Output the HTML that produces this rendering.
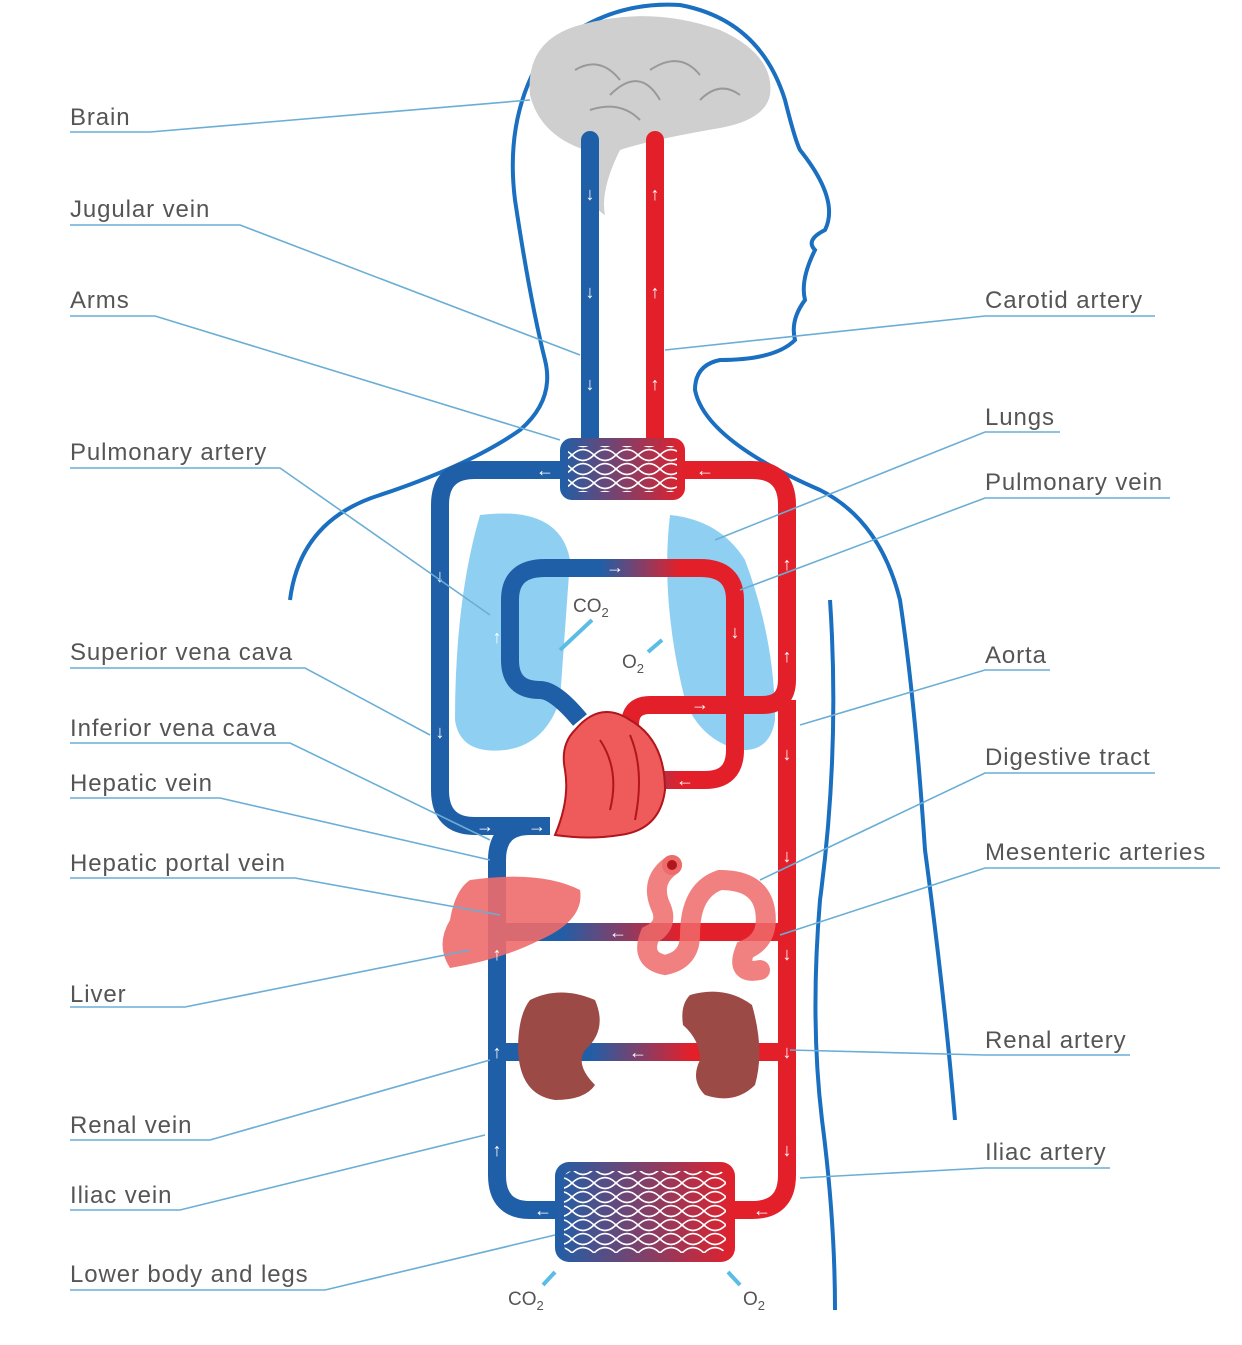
<!DOCTYPE html>
<html><head><meta charset="utf-8"><style>
html,body{margin:0;padding:0;background:#fff;}
svg{display:block;}
text{font-family:"Liberation Sans",sans-serif;}
.lb{font-size:24px;fill:#555;letter-spacing:0.9px;}
.ld{stroke:#6aaed6;stroke-width:1.6;fill:none;}
.ar{font-size:18px;fill:#fff;font-weight:bold;text-anchor:middle;}
</style></head><body>
<svg width="1242" height="1345" viewBox="0 0 1242 1345" xmlns="http://www.w3.org/2000/svg">
<defs>
<linearGradient id="br" x1="0" x2="1"><stop offset="0" stop-color="#1f5fa8"/><stop offset="1" stop-color="#e3202a"/></linearGradient>
<linearGradient id="lg" gradientUnits="userSpaceOnUse" x1="600" y1="0" x2="680" y2="0"><stop offset="0" stop-color="#1f5fa8"/><stop offset="1" stop-color="#e3202a"/></linearGradient>
<linearGradient id="pg" gradientUnits="userSpaceOnUse" x1="560" y1="0" x2="680" y2="0"><stop offset="0" stop-color="#1f5fa8"/><stop offset="1" stop-color="#e3202a"/></linearGradient>
<linearGradient id="rg" gradientUnits="userSpaceOnUse" x1="590" y1="0" x2="690" y2="0"><stop offset="0" stop-color="#1f5fa8"/><stop offset="1" stop-color="#e3202a"/></linearGradient>
<pattern id="mesh" width="22" height="14" patternUnits="userSpaceOnUse"><path d="M0 7 Q11 -4 22 7 M0 7 Q11 18 22 7" stroke="#fff" stroke-width="1.6" fill="none"/></pattern>
</defs>
<rect width="1242" height="1345" fill="#fff"/>
<path d="M290 600 Q300 520 380 495 Q470 465 520 430 Q555 400 545 360 Q530 300 515 200 Q505 120 540 60 Q600 0 680 5 Q760 20 785 100 Q795 140 800 150 Q840 200 825 230 Q805 240 815 250 Q800 280 805 300 Q790 320 795 340 Q775 360 720 360 Q695 365 695 390 Q705 440 820 490 Q880 520 900 600 Q915 700 925 850 Q945 1000 955 1120" fill="none" stroke="#1a6fc0" stroke-width="4"/>
<path d="M830 600 Q840 750 820 900 Q810 1020 822 1120 Q835 1220 835 1310" fill="none" stroke="#1a6fc0" stroke-width="4"/>
<path d="M530 95 Q525 40 580 25 Q650 5 720 30 Q775 55 770 95 Q765 120 720 128 Q650 140 620 150 Q600 190 605 215 Q580 200 585 150 Q540 135 530 95Z" fill="#cfcfcf"/>
<path d="M575 70 Q600 55 620 80 M610 95 Q640 65 660 100 M650 70 Q680 50 700 75 M700 100 Q720 80 740 95 M590 110 Q620 100 640 120" stroke="#999" stroke-width="2" fill="none"/>
<path d="M480 515 Q560 505 570 560 L560 700 Q545 745 505 750 Q460 755 455 720 Q455 600 480 515Z" fill="#8fd0f2"/>
<path d="M670 515 Q720 520 745 560 Q775 640 775 720 Q770 752 740 750 Q700 740 685 700 Q660 600 670 515Z" fill="#8fd0f2"/>
<g fill="none" stroke-width="18" stroke-linecap="butt">
<path d="M590 140 V440" stroke="#1f5fa8" stroke-linecap="round"/>
<path d="M655 140 V440" stroke="#e3202a" stroke-linecap="round"/>
<path d="M560 470 H475 Q440 470 440 505 V790 Q440 826 475 826 H550" stroke="#1f5fa8"/>
<path d="M685 470 H752 Q787 470 787 505 V680 Q787 705 762 705 H650 Q630 705 630 725" stroke="#e3202a"/>
<path d="M787 700 V1175 Q787 1210 752 1210 H735" stroke="#e3202a"/>
<path d="M555 1210 H530 Q497 1210 497 1175 V860 Q497 826 530 826" stroke="#1f5fa8"/>
<path d="M580 720 Q555 690 540 690 Q510 690 510 660 V600 Q510 568 545 568 H640" stroke="#1f5fa8"/>
<path d="M600 568 H700 Q735 568 735 600 V750 Q735 780 705 780 H660" stroke="url(#lg)"/>
<path d="M497 1052 H787" stroke="url(#rg)"/>
<path d="M497 932 H787" stroke="url(#pg)"/>
</g>
<rect x="560" y="438" width="125" height="62" rx="12" fill="url(#br)"/>
<rect x="568" y="446" width="109" height="46" rx="6" fill="url(#mesh)"/>
<rect x="555" y="1162" width="180" height="100" rx="14" fill="url(#br)"/>
<rect x="564" y="1171" width="162" height="82" rx="8" fill="url(#mesh)"/>
<path d="M575 730 Q600 700 630 720 Q665 740 665 790 Q660 830 620 835 Q590 840 555 835 Q570 800 565 770 Q560 745 575 730Z" fill="#ef5a5a" stroke="#b0161c" stroke-width="2"/>
<path d="M600 740 Q620 770 610 810 M630 735 Q645 770 635 820" stroke="#b0161c" stroke-width="2" fill="none"/>
<path d="M470 880 Q540 870 580 890 Q585 920 540 940 Q500 960 450 968 Q435 945 450 920 Q455 890 470 880Z" fill="#ee6b6b" opacity="0.9"/>
<path d="M672 865 Q650 880 660 905 Q670 925 650 935 Q640 960 665 965 Q690 960 690 935 Q690 890 720 880 Q760 880 765 910 Q770 940 745 950 Q735 975 760 970" fill="none" stroke="#ee6b6b" stroke-width="20" stroke-linecap="round" opacity="0.85"/>
<circle cx="672" cy="865" r="10" fill="#ee6b6b"/><circle cx="672" cy="865" r="5" fill="#b0161c"/>
<path d="M530 1000 Q560 985 595 1000 Q608 1030 585 1050 Q575 1065 595 1085 Q585 1100 555 1100 Q520 1095 518 1050 Q518 1015 530 1000Z" fill="#9b4a45"/>
<path d="M690 995 Q725 985 752 1005 Q765 1050 755 1085 Q735 1105 705 1095 Q690 1080 700 1060 Q700 1040 683 1025 Q680 1005 690 995Z" fill="#9b4a45"/>
<g class="ar">
<text x="590" y="200">↓</text><text x="590" y="298">↓</text><text x="590" y="390">↓</text>
<text x="655" y="200">↑</text><text x="655" y="298">↑</text><text x="655" y="390">↑</text>
<text x="440" y="582">↓</text><text x="440" y="738">↓</text>
<text x="787" y="570">↑</text><text x="787" y="662">↑</text><text x="787" y="760">↓</text><text x="787" y="862">↓</text><text x="787" y="960">↓</text><text x="787" y="1058">↓</text><text x="787" y="1156">↓</text>
<text x="497" y="960">↑</text><text x="497" y="1058">↑</text><text x="497" y="1156">↑</text>
<text x="497" y="643">↑</text><text x="735" y="638">↓</text>
<text x="545" y="476">←</text><text x="705" y="476">←</text><text x="615" y="573">→</text><text x="700" y="710">→</text><text x="685" y="786">←</text>
<text x="485" y="832">→</text><text x="537" y="832">→</text><text x="618" y="938">←</text><text x="638" y="1058">←</text>
<text x="543" y="1216">←</text><text x="762" y="1216">←</text>
</g>
<g font-size="19" fill="#555">
<text x="573" y="612">CO<tspan font-size="13" dy="5">2</tspan></text>
<text x="622" y="668">O<tspan font-size="13" dy="5">2</tspan></text>
<text x="508" y="1305">CO<tspan font-size="13" dy="5">2</tspan></text>
<text x="743" y="1305">O<tspan font-size="13" dy="5">2</tspan></text>
</g>
<g stroke="#5bbde6" stroke-width="4">
<path d="M560 650 L592 620"/><path d="M648 652 L662 640"/><path d="M543 1285 L555 1272"/><path d="M728 1272 L740 1285"/>
</g>
<g class="lb">
<text x="70" y="125">Brain</text>
<text x="70" y="217">Jugular vein</text>
<text x="70" y="308">Arms</text>
<text x="70" y="460">Pulmonary artery</text>
<text x="70" y="660">Superior vena cava</text>
<text x="70" y="736">Inferior vena cava</text>
<text x="70" y="791">Hepatic vein</text>
<text x="70" y="871">Hepatic portal vein</text>
<text x="70" y="1002">Liver</text>
<text x="70" y="1133">Renal vein</text>
<text x="70" y="1203">Iliac vein</text>
<text x="70" y="1282">Lower body and legs</text>
<text x="985" y="308">Carotid artery</text>
<text x="985" y="425">Lungs</text>
<text x="985" y="490">Pulmonary vein</text>
<text x="985" y="663">Aorta</text>
<text x="985" y="765">Digestive tract</text>
<text x="985" y="860">Mesenteric arteries</text>
<text x="985" y="1048">Renal artery</text>
<text x="985" y="1160">Iliac artery</text>
</g>
<g class="ld">
<path d="M70 132 H150 L530 100"/>
<path d="M70 225 H240 L580 355"/>
<path d="M70 316 H155 L560 440"/>
<path d="M70 468 H280 L490 615"/>
<path d="M70 668 H305 L430 735"/>
<path d="M70 743 H290 L490 840"/>
<path d="M70 798 H220 L490 860"/>
<path d="M70 878 H295 L500 915"/>
<path d="M70 1007 H185 L470 950"/>
<path d="M70 1140 H210 L490 1060"/>
<path d="M70 1210 H180 L485 1135"/>
<path d="M70 1290 H325 L555 1235"/>
<path d="M1155 316 H985 L665 350"/>
<path d="M1060 432 H985 L715 540"/>
<path d="M1170 498 H985 L740 590"/>
<path d="M1050 670 H985 L800 725"/>
<path d="M1155 773 H985 L760 880"/>
<path d="M1220 868 H985 L780 935"/>
<path d="M1130 1055 H985 L790 1050"/>
<path d="M1110 1168 H985 L800 1178"/>
</g>
</svg>
</body></html>
